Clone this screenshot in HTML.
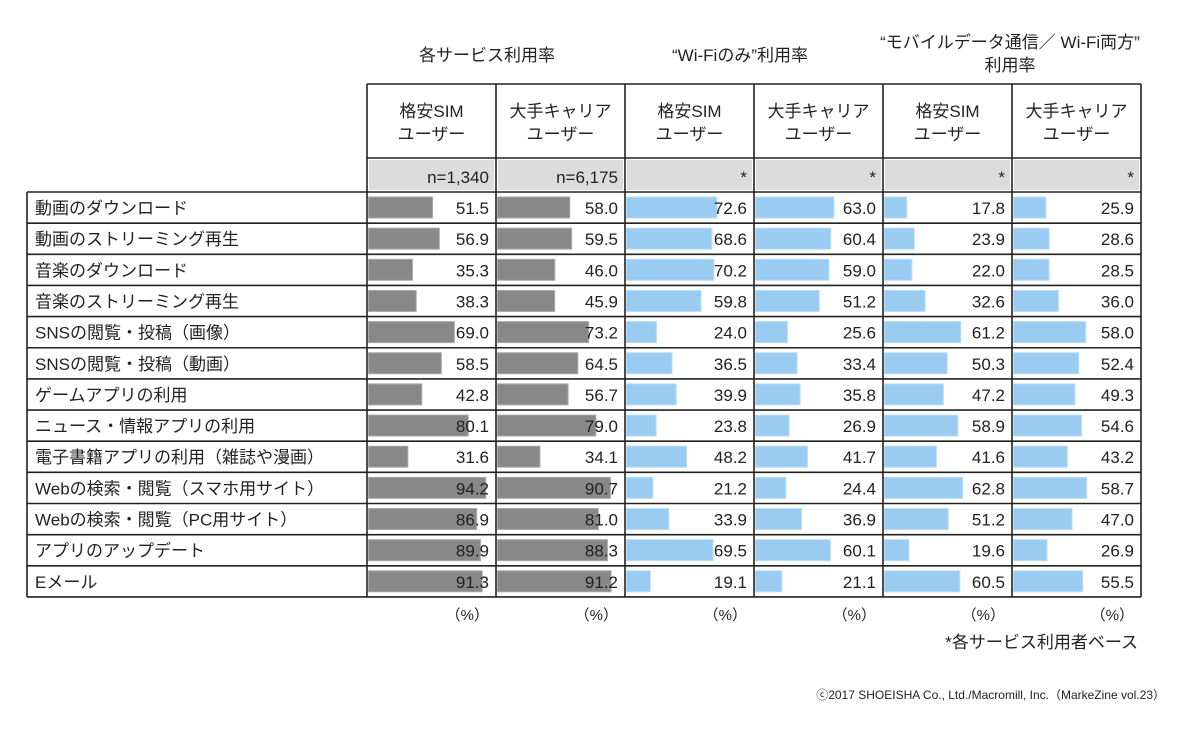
<!DOCTYPE html>
<html><head><meta charset="utf-8"><style>
body{margin:0;background:#fff;}
svg text{font-family:"Liberation Sans","Noto Sans CJK JP",sans-serif;fill:#222;}
</style></head><body>
<svg width="1200" height="733" xmlns="http://www.w3.org/2000/svg" id="s">
</svg>
<script>
(function(){
var s=document.getElementById('s');
var h='';
var cols=[367,496,625,754,883,1012,1141];
var labels=["動画のダウンロード","動画のストリーミング再生","音楽のダウンロード","音楽のストリーミング再生","SNSの閲覧・投稿（画像）","SNSの閲覧・投稿（動画）","ゲームアプリの利用","ニュース・情報アプリの利用","電子書籍アプリの利用（雑誌や漫画）","Webの検索・閲覧（スマホ用サイト）","Webの検索・閲覧（PC用サイト）","アプリのアップデート","Eメール"];
var d=[[51.5,58.0,72.6,63.0,17.8,25.9],[56.9,59.5,68.6,60.4,23.9,28.6],[35.3,46.0,70.2,59.0,22.0,28.5],[38.3,45.9,59.8,51.2,32.6,36.0],[69.0,73.2,24.0,25.6,61.2,58.0],[58.5,64.5,36.5,33.4,50.3,52.4],[42.8,56.7,39.9,35.8,47.2,49.3],[80.1,79.0,23.8,26.9,58.9,54.6],[31.6,34.1,48.2,41.7,41.6,43.2],[94.2,90.7,21.2,24.4,62.8,58.7],[86.9,81.0,33.9,36.9,51.2,47.0],[89.9,88.3,69.5,60.1,19.6,26.9],[91.3,91.2,19.1,21.1,60.5,55.5]];
var T0=192,rh=31.15;
h+='<text x="487" y="61" font-size="17" text-anchor="middle">各サービス利用率</text>';
h+='<text x="740" y="61" font-size="17" text-anchor="middle">“Wi-Fiのみ”利用率</text>';
h+='<text x="1010" y="48" font-size="17" text-anchor="middle">“モバイルデータ通信／ Wi-Fi両方”</text>';
h+='<text x="1010" y="71" font-size="17" text-anchor="middle">利用率</text>';
var hd=[["格安SIM","ユーザー"],["大手キャリア","ユーザー"]];
for(var c=0;c<6;c++){
 var x0=cols[c],x1=cols[c+1],cx=(x0+x1)/2;
 var t=hd[c%2];
 h+='<text x="'+cx+'" y="117" font-size="17" text-anchor="middle">'+t[0]+'</text><text x="'+cx+'" y="140" font-size="17" text-anchor="middle">'+t[1]+'</text>';
 h+='<rect x="'+(x0+2)+'" y="160" width="'+(x1-x0-4)+'" height="30" fill="#dcdcdc"/>';
 var nt=c==0?"n=1,340":c==1?"n=6,175":"*";
 h+='<text x="'+(x1-7)+'" y="183" font-size="17" text-anchor="end">'+nt+'</text>';
}
for(var r=0;r<13;r++){
 var y=T0+r*rh;
 h+='<text x="35" y="'+(y+22)+'" font-size="17">'+labels[r]+'</text>';
 for(var c2=0;c2<6;c2++){
  var a=cols[c2],b=cols[c2+1],v=d[r][c2];
  var col=c2<2?"#888888":"#99ccf0";
  var st=c2<2?"#aaa":"#b8dcf6";
  h+='<rect x="'+(a+1.5)+'" y="'+(y+5)+'" width="'+(v*1.245)+'" height="21" fill="'+col+'" stroke="'+st+'" stroke-width="1"/>';
  h+='<text x="'+(b-7)+'" y="'+(y+22)+'" font-size="17" text-anchor="end">'+v.toFixed(1)+'</text>';
 }
}
var bot=T0+13*rh;
function L(a,b,c,e){h+='<line x1="'+a+'" y1="'+b+'" x2="'+c+'" y2="'+e+'" stroke="#222" stroke-width="1.6"/>';}
L(367,84,1141,84);L(367,158,1141,158);
for(var r2=0;r2<=13;r2++)L(27,T0+r2*rh,1141,T0+r2*rh);
L(27,T0,27,bot);
for(var i=0;i<cols.length;i++)L(cols[i],84,cols[i],bot);
for(var c3=0;c3<6;c3++)h+='<text x="'+(cols[c3+1]-7)+'" y="'+(bot+23)+'" font-size="15" text-anchor="end">（%）</text>';
h+='<text x="1138" y="648" font-size="17" text-anchor="end">*各サービス利用者ベース</text>';
h+='<text x="1165" y="699" font-size="12" text-anchor="end">ⓒ2017 SHOEISHA Co., Ltd./Macromill, Inc.（MarkeZine vol.23）</text>';
s.innerHTML=h;
})();
</script>
</body></html>
